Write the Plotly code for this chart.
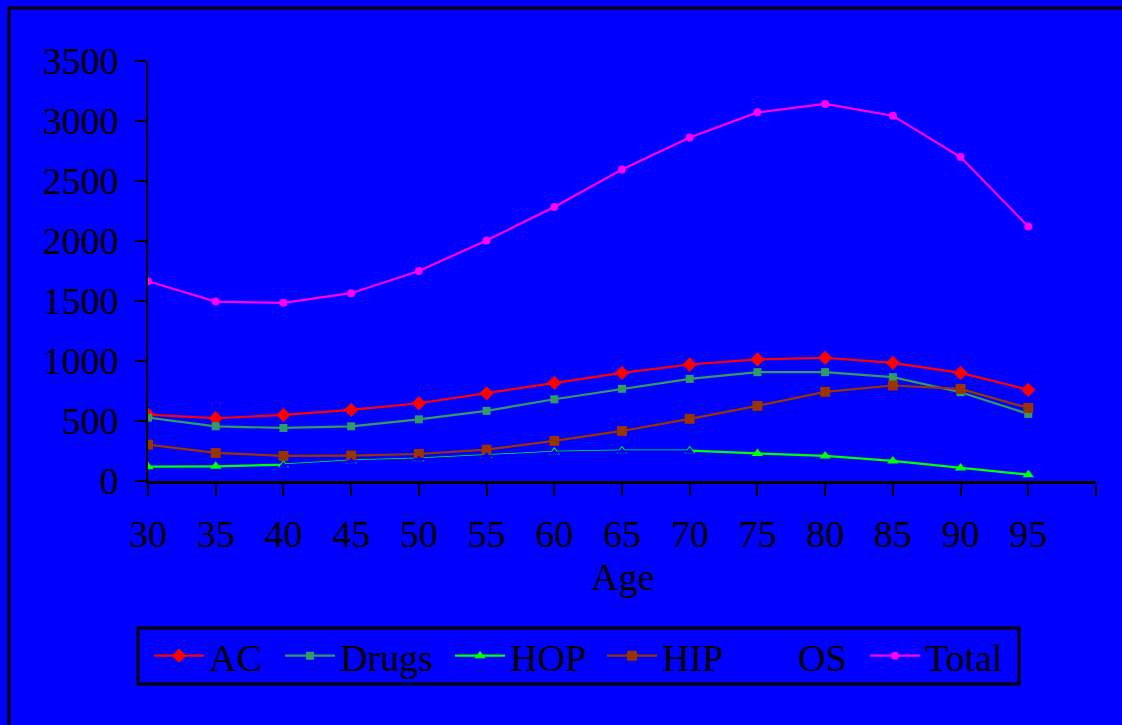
import plotly.graph_objects as go

ages = [30, 35, 40, 45, 50, 55, 60, 65, 70, 75, 80, 85, 90, 95]
ac = [553, 523, 551, 593, 648, 731, 818, 901, 971, 1013, 1027, 985, 901, 760]
drugs = [528, 456, 442, 456, 514, 584, 681, 768, 851, 907, 907, 865, 740, 559]
hop = [119, 122, 136, 169, 186, 214, 242, 253, 253, 230, 209, 167, 109, 53]
hip = [303, 234, 209, 211, 225, 261, 334, 417, 518, 626, 743, 796, 768, 609]
os_ = [None, None, 130, 163, 180, 208, 236, 247, 247, None, None, None, None, None]
total = [1665, 1495, 1485, 1565, 1750, 2005, 2283, 2595, 2863, 3072, 3142, 3044, 2700, 2120]

xtick_vals = [30, 35, 40, 45, 50, 55, 60, 65, 70, 75, 80, 85, 90, 95, 100]
xtick_text = ["30", "35", "40", "45", "50", "55", "60", "65", "70", "75", "80", "85", "90", "95", ""]
ytick_vals = [0, 500, 1000, 1500, 2000, 2500, 3000, 3500]
x_title = "Age"

BG = "#0000FF"
FONT = "Liberation Serif, Times New Roman, serif"
FS = 38

# plot area in pixels: x 148..1096, y 61..481
def px(x):
    return (x - 148) / 948.0

def py(y):
    return (481 - y) / 420.0

fig = go.Figure()
series = [
    ("AC", ac, "#FF0000", "diamond", 11, "legend"),
    ("Drugs", drugs, "#339966", "square", 8, "legend2"),
    ("HOP", hop, "#00FF00", "triangle-up", 10, "legend3"),
    ("HIP", hip, "#993300", "square", 10, "legend4"),
    ("OS", os_, BG, "triangle-up", 8, "legend5"),
    ("Total", total, "#FF00FF", "circle", 8, "legend6"),
]
for name, vals, col, sym, sz, lg in series:
    fig.add_trace(go.Scatter(x=ages, y=vals, name=name, mode="lines+markers",
                             line=dict(color=col, width=2.2),
                             marker=dict(symbol=sym, size=sz, color=col),
                             legend=lg))

leg_x = [149, 280, 450, 602, 738, 865]
legends = {}
for i, lx in enumerate(leg_x):
    key = "legend" if i == 0 else "legend%d" % (i + 1)
    legends[key] = dict(orientation="h", x=px(lx), y=py(656), xanchor="left", yanchor="middle",
                        bgcolor="rgba(0,0,0,0)", borderwidth=0, itemwidth=50,
                        font=dict(family=FONT, size=FS, color="black"))

fig.update_layout(
    width=1122, height=725,
    paper_bgcolor=BG, plot_bgcolor=BG,
    margin=dict(l=148, r=26, t=61, b=244, autoexpand=False),
    font=dict(family=FONT, size=FS, color="black"),
    showlegend=True,
    xaxis=dict(range=[30, 100], tickmode="array", tickvals=xtick_vals, ticktext=xtick_text,
               showgrid=False, zeroline=False, showline=True, linecolor="black", linewidth=3,
               ticks="outside", ticklen=12, tickwidth=2, tickcolor="black",
               tickfont=dict(family=FONT, size=FS, color="black"),
               ticklabelstandoff=5),
    yaxis=dict(range=[0, 3500], tickmode="array", tickvals=ytick_vals,
               showgrid=False, zeroline=False, showline=True, linecolor="black", linewidth=2,
               ticks="outside", ticklen=11, tickwidth=2, tickcolor="black",
               tickfont=dict(family=FONT, size=FS, color="black"),
               ticklabelstandoff=9),
    annotations=[dict(text=x_title, xref="paper", yref="paper", x=px(622), y=py(577),
                      xanchor="center", yanchor="middle", showarrow=False,
                      font=dict(family=FONT, size=FS, color="black"))],
    shapes=[
        dict(type="rect", xref="paper", yref="paper",
             x0=px(9), x1=px(1140), y0=py(740), y1=py(8),
             line=dict(color="black", width=3), fillcolor="rgba(0,0,0,0)", layer="below"),
        dict(type="rect", xref="paper", yref="paper",
             x0=px(138), x1=px(1019), y0=py(684), y1=py(628),
             line=dict(color="black", width=3), fillcolor="rgba(0,0,0,0)", layer="below"),
    ],
    **legends,
)

fig.write_html("out.html")
